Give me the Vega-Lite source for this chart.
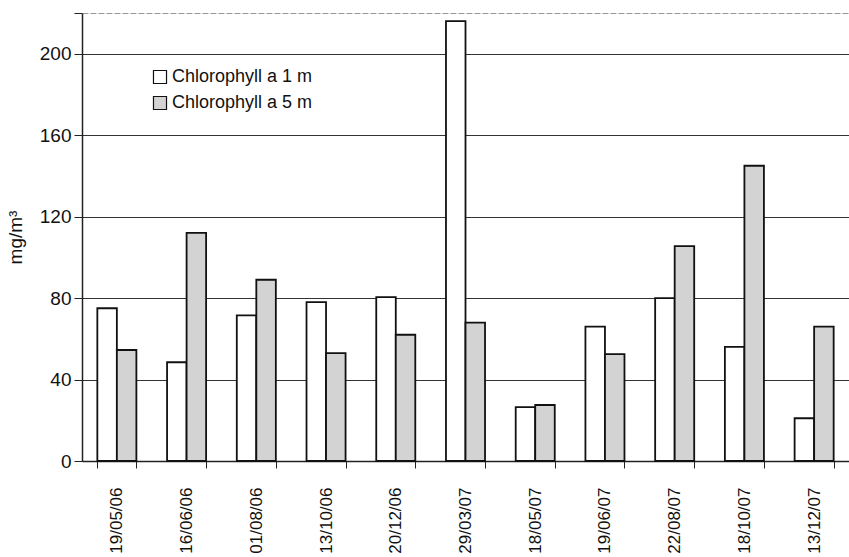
{
  "$schema": "https://vega.github.io/schema/vega-lite/v6.json",
  "width": 767,
  "height": 448,
  "autosize": {"type": "none"},
  "padding": {"left": 82, "top": 13, "right": 0, "bottom": 96},
  "background": "white",
  "config": {
    "view": {"stroke": null},
    "font": "Liberation Sans",
    "axis": {"labelFont": "Liberation Sans", "titleFont": "Liberation Sans", "labelColor": "#111", "titleColor": "#111", "domainColor": "#222", "tickColor": "#222"},
    "legend": {"labelFont": "Liberation Sans"}
  },
  "data": {
    "values": [
      {"date": "19/05/06", "series": "Chlorophyll a 1 m", "value": 75},
      {"date": "19/05/06", "series": "Chlorophyll a 5 m", "value": 54.5},
      {"date": "16/06/06", "series": "Chlorophyll a 1 m", "value": 48.5},
      {"date": "16/06/06", "series": "Chlorophyll a 5 m", "value": 112},
      {"date": "01/08/06", "series": "Chlorophyll a 1 m", "value": 71.5},
      {"date": "01/08/06", "series": "Chlorophyll a 5 m", "value": 89},
      {"date": "13/10/06", "series": "Chlorophyll a 1 m", "value": 78},
      {"date": "13/10/06", "series": "Chlorophyll a 5 m", "value": 53},
      {"date": "20/12/06", "series": "Chlorophyll a 1 m", "value": 80.5},
      {"date": "20/12/06", "series": "Chlorophyll a 5 m", "value": 62},
      {"date": "29/03/07", "series": "Chlorophyll a 1 m", "value": 216},
      {"date": "29/03/07", "series": "Chlorophyll a 5 m", "value": 68},
      {"date": "18/05/07", "series": "Chlorophyll a 1 m", "value": 26.5},
      {"date": "18/05/07", "series": "Chlorophyll a 5 m", "value": 27.5},
      {"date": "19/06/07", "series": "Chlorophyll a 1 m", "value": 66},
      {"date": "19/06/07", "series": "Chlorophyll a 5 m", "value": 52.5},
      {"date": "22/08/07", "series": "Chlorophyll a 1 m", "value": 80},
      {"date": "22/08/07", "series": "Chlorophyll a 5 m", "value": 105.5},
      {"date": "18/10/07", "series": "Chlorophyll a 1 m", "value": 56},
      {"date": "18/10/07", "series": "Chlorophyll a 5 m", "value": 145},
      {"date": "13/12/07", "series": "Chlorophyll a 1 m", "value": 21},
      {"date": "13/12/07", "series": "Chlorophyll a 5 m", "value": 66}
    ]
  },
  "mark": {"type": "bar", "stroke": "#111", "strokeWidth": 1.8},
  "encoding": {
    "x": {
      "field": "date",
      "type": "nominal",
      "sort": null,
      "scale": {"paddingInner": 0.44, "paddingOuter": 0.22},
      "axis": {
        "title": null,
        "labelAngle": -90,
        "labelFontSize": 17,
        "labelPadding": 19,
        "tickBand": "extent",
        "tickSize": 7,
        "domainWidth": 1.5
      }
    },
    "xOffset": {"field": "series", "type": "nominal", "scale": {"paddingInner": 0, "paddingOuter": 0}},
    "y": {
      "field": "value",
      "type": "quantitative",
      "scale": {"domain": [0, 220], "nice": false},
      "axis": {
        "title": "mg/m³",
        "titleFontSize": 19,
        "titleFontWeight": "normal",
        "titlePadding": 14,
        "values": [0, 40, 80, 120, 160, 200, 220],
        "labelExpr": "datum.value == 220 ? '' : datum.label",
        "labelFontSize": 19,
        "labelPadding": 3,
        "tickSize": 8,
        "grid": true,
        "gridColor": {"condition": {"test": "datum.value == 220", "value": "#999"}, "value": "#333"},
        "gridDash": {"condition": {"test": "datum.value == 220", "value": [6, 2]}, "value": []},
        "gridWidth": 1,
        "domainWidth": 1.5
      }
    },
    "fill": {
      "field": "series",
      "type": "nominal",
      "scale": {"domain": ["Chlorophyll a 1 m", "Chlorophyll a 5 m"], "range": ["#ffffff", "#d3d3d3"]},
      "legend": {
        "title": null,
        "orient": "none",
        "legendX": 69,
        "legendY": 55,
        "symbolType": "square",
        "symbolSize": 170,
        "symbolStrokeColor": "#111",
        "symbolStrokeWidth": 1.2,
        "labelFontSize": 18,
        "labelColor": "#111",
        "labelOffset": 3,
        "rowPadding": 8
      }
    }
  }
}
